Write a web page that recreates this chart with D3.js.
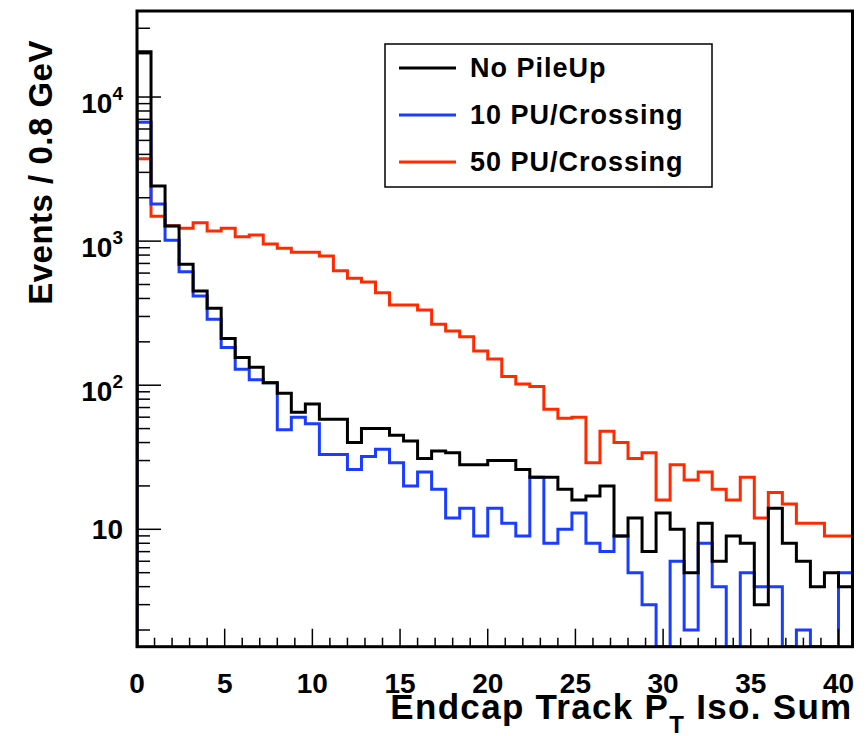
<!DOCTYPE html>
<html>
<head>
<meta charset="utf-8">
<script src="https://cdn.jsdelivr.net/npm/d3@7"></script>
<style>
  html, body { margin: 0; padding: 0; background: #fff; }
  svg { display: block; }
  text { font-family: "Liberation Sans", Arial, Helvetica, sans-serif; font-weight: bold; fill: #000; }
</style>
</head>
<body>
<svg id="chart" width="867" height="736"></svg>
<script>
// ---------------- data ----------------
const binWidth = 0.8;   // GeV
const nBins = 51;
const xMin = 0, xMax = 40.8;
const yMin = 1.532, yMax = 39540;

const seriesNames = ["No PileUp", "10 PU/Crossing", "50 PU/Crossing"];
const seriesColors = ["#000000", "#1a3dff", "#ff2a00"];

const noPileUp = [20600, 2410, 1275, 690, 450, 342, 211, 156, 133, 104,
  88, 65, 74, 58, 58, 40, 50, 50, 45, 41,
  31, 35, 34, 28, 28, 30, 30, 26, 23, 23,
  19, 16, 17, 20, 9, 12, 7, 13, 10, 5,
  11, 6, 9, 8, 3, 14, 8, 6, 4, 5, 4];

const pu10 = [6670, 1810, 1015, 614, 416, 287, 183, 129, 109, 104,
  49, 60, 54, 33, 33, 26, 32, 36, 29, 20,
  25, 19, 12, 14, 9, 14, 11, 9, 23, 8,
  10, 13, 8, 7, 9, 5, 3, 0, 6, 2,
  8, 4, 0, 5, 4, 4, 0, 2, 0, 0, 5];

const pu50 = [3730, 1490, 1280, 1227, 1343, 1175, 1227, 1074, 1102, 955,
  891, 836, 836, 789, 624, 552, 520, 438, 360, 360,
  333, 265, 238, 217, 173, 152, 115, 102, 98, 68,
  59, 60, 29, 48, 40, 31, 34, 16, 28, 22,
  25, 19, 16, 23, 12, 18, 15, 11, 11, 9, 9];

const xTickLabels = ["0", "5", "10", "15", "20", "25", "30", "35", "40"];
const yMajorTicks = [10, 100, 1000, 10000];
const yTickLabels = [["10", ""], ["10", "2"], ["10", "3"], ["10", "4"]];

const xTitleMain = "Endcap Track P";
const xTitleSub = "T";
const xTitleRest = " Iso. Sum";
const yTitle = "Events / 0.8 GeV";

// ---------------- layout ----------------
const svg = d3.select("#chart");
const L = 137, R = 852.5, T = 11, B = 646.7;

const x = d3.scaleLinear().domain([xMin, xMax]).range([L, R]);
const y = d3.scaleLog().domain([yMin, yMax]).range([B, T]);

svg.append("defs").append("clipPath").attr("id", "plotclip")
  .append("rect").attr("x", L).attr("y", T).attr("width", R - L).attr("height", B - T);

function histPath(vals) {
  const yy = v => (v <= yMin ? B : Math.max(T, y(v)));
  let d = "M" + x(0) + "," + B;
  vals.forEach((v, i) => {
    const x0 = x(i * binWidth), x1 = x((i + 1) * binWidth);
    d += "L" + x0 + "," + yy(v) + "L" + x1 + "," + yy(v);
  });
  return d;
}

const plot = svg.append("g").attr("clip-path", "url(#plotclip)");
const drawOrder = [[pu50, 2], [pu10, 1], [noPileUp, 0]];
drawOrder.forEach(([vals, k]) => {
  plot.append("path")
    .attr("d", histPath(vals))
    .attr("fill", "none")
    .attr("stroke", seriesColors[k])
    .attr("stroke-width", 3)
    .attr("stroke-linejoin", "miter");
});

// ---------------- axes ----------------
const axes = svg.append("g");
axes.append("rect").attr("x", L).attr("y", T).attr("width", R - L).attr("height", B - T)
  .attr("fill", "none").attr("stroke", "#000").attr("stroke-width", 3);

// x ticks
const xMinor = d3.range(0, 41, 1);
axes.selectAll(".xt").data(xMinor).enter().append("line")
  .attr("x1", d => x(d)).attr("x2", d => x(d))
  .attr("y1", B).attr("y2", d => B - (d % 5 === 0 ? 18 : 9))
  .attr("stroke", "#000").attr("stroke-width", 1.5);
axes.selectAll(".xl").data(xTickLabels).enter().append("text")
  .attr("x", d => x(+d)).attr("y", 693)
  .attr("text-anchor", "middle")
  .attr("font-size", 28)
  .text(d => d);

// y ticks
const yMinor = [];
for (let e = 0; e <= 4; e++) for (let m = 1; m <= 9; m++) {
  const v = m * Math.pow(10, e);
  if (v >= yMin && v <= yMax) yMinor.push(v);
}
axes.selectAll(".yt").data(yMinor).enter().append("line")
  .attr("x1", L).attr("x2", d => L + (yMajorTicks.includes(d) ? 24 : 13))
  .attr("y1", d => y(d)).attr("y2", d => y(d))
  .attr("stroke", "#000").attr("stroke-width", 1.5);

yMajorTicks.forEach((v, i) => {
  const [base, exp] = yTickLabels[i];
  const t = axes.append("text")
    .attr("x", L - 14)
    .attr("text-anchor", "end")
    .attr("font-size", 28);
  if (exp) {
    t.attr("y", y(v) + 16);
    t.append("tspan").text(base);
    t.append("tspan").attr("font-size", 19).attr("dy", -13).text(exp);
  } else {
    t.attr("y", y(v) + 10).text(base);
  }
});

// axis titles
const xt = svg.append("text").attr("x", R).attr("y", 719)
  .attr("text-anchor", "end").attr("font-size", 35)
  .attr("letter-spacing", 1.3);
xt.append("tspan").text(xTitleMain);
xt.append("tspan").attr("font-size", 24).attr("dy", 14).text(xTitleSub);
xt.append("tspan").attr("dy", -14).text(xTitleRest);

svg.append("text")
  .attr("transform", "translate(52,40) rotate(-90)")
  .attr("text-anchor", "end")
  .attr("font-size", 33)
  .attr("letter-spacing", 0.5)
  .text(yTitle);

// ---------------- legend ----------------
const lg = svg.append("g");
lg.append("rect").attr("x", 385).attr("y", 44).attr("width", 327).attr("height", 143)
  .attr("fill", "#fff").attr("stroke", "#000").attr("stroke-width", 1.5);
const legendY = [68, 115, 162];
seriesNames.forEach((name, k) => {
  lg.append("line").attr("x1", 399).attr("x2", 456)
    .attr("y1", legendY[k]).attr("y2", legendY[k])
    .attr("stroke", seriesColors[k]).attr("stroke-width", 3);
  lg.append("text").attr("x", 470).attr("y", legendY[k] + 9)
    .attr("font-size", 27).attr("letter-spacing", 1)
    .text(name);
});
</script>
</body>
</html>
